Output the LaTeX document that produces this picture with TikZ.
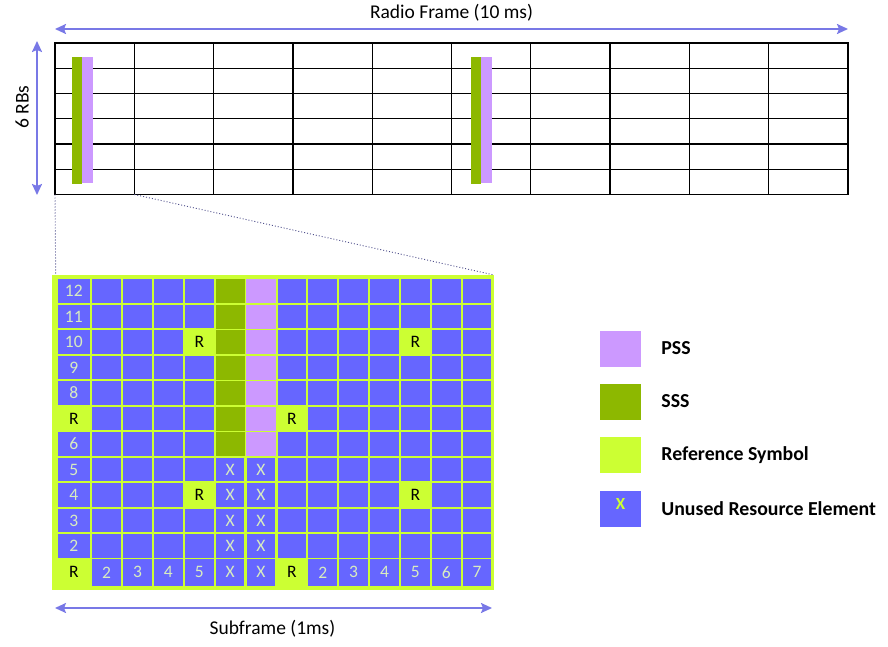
\documentclass[tikz,border=0pt]{standalone}
\usepackage{fontspec}
\setmainfont{Carlito}
\usetikzlibrary{positioning, arrows.meta, calc}

\definecolor{unused}{HTML}{6666FF}
\definecolor{refsym}{HTML}{CCFF33}
\definecolor{sss}{HTML}{8DB800}
\definecolor{pss}{HTML}{CC99FF}
\definecolor{dimblue}{HTML}{7878E6}
\definecolor{celltxt}{HTML}{D8ECC0}
\definecolor{dotblue}{HTML}{50508C}

\tikzset{
    frameline/.style={line width=1.3pt, black},
    dimarrow/.style={line width=2pt, dimblue, {Stealth[length=11pt, width=10pt, inset=2pt]}-{Stealth[length=11pt, width=10pt, inset=2pt]}},
    zoomline/.style={line width=0.9pt, dotblue, dash pattern=on 1pt off 2pt},
    labeltext/.style={font=\fontsize{19.5}{22}\selectfont, inner sep=0pt},
    re/.style={inner sep=0pt, draw=none},
    celltext/.style={font=\fontsize{17.5}{19}\selectfont, inner sep=0pt, text=celltxt},
    legbox/.style={minimum width=41pt, minimum height=36pt, inner sep=0pt},
    legtext/.style={font=\bfseries\fontsize{19.8}{23}\selectfont, inner sep=0pt, anchor=west}
}

\begin{document}
\begin{tikzpicture}[x=1pt, y=-1pt]

    \useasboundingbox (0,0) rectangle (888,647);

    % Radio frame: 10 subframes by 6 RBs
    \coordinate (frame-nw) at (55,43);
    \coordinate (frame-ne) at (848,43);
    \coordinate (frame-sw) at (55,194.5);
    \coordinate (sf1-se) at (134.3,194.5);
    \foreach \r in {1,...,5}
        \draw[frameline] (55,43+25.25*\r) -- (848,43+25.25*\r);
    \foreach \c in {1,...,9}
        \draw[frameline] (55+79.3*\c,43) -- ++(0,151.5);
    \draw[frameline] (frame-nw) rectangle (848,194.5);

    % SSS and PSS bars in subframes 0 and 5
    \fill[sss] (72,57) rectangle (82,184);
    \fill[pss] (82,57) rectangle (93,183.5);
    \fill[sss] (471,57) rectangle (481,184);
    \fill[pss] (481,57) rectangle (492,183.5);

    % Radio frame arrow
    \draw[dimarrow] ([yshift=14pt]frame-nw) -- ([yshift=14pt]frame-ne);
    \node[labeltext, anchor=base] (rf-label) at (451.5,19) {Radio Frame (10 ms)};

    % 6 RBs arrow
    \coordinate (rb-top) at (37,41);
    \coordinate (rb-bot) at (37,195);
    \draw[dimarrow] (rb-top) -- (rb-bot);
    \node[labeltext, rotate=90] (rb-label) at (22,107) {6 RBs};

    % Zoomed subframe
    \coordinate (grid-nw) at (55.7,275);
    \coordinate (grid-ne) at (494,275);
    \fill[refsym] (52,275) rectangle (494,589.5);
    \foreach \c in {0,...,13}
        \foreach \r in {0,...,11} {
            \pgfmathsetmacro{\cw}{\c==0 ? 32.3 : 28.7}
            \pgfmathsetmacro{\xm}{\c==0 ? 73.85 : 106.65+30.87*(\c-1)}
            \pgfmathsetmacro{\ch}{\r==11 ? 26.7 : 23.5}
            \pgfmathsetmacro{\ym}{\r==11 ? 572.35 : 291.05+25.5*\r}
            \node[re, fill=unused, minimum width=\cw pt, minimum height=\ch pt] (re-\c-\r) at (\xm,\ym) {};
        }

    % SSS and PSS symbols
    \foreach \r in {0,...,6} {
        \fill[sss] (re-5-\r.south west) rectangle (re-5-\r.north east);
        \fill[pss] (re-6-\r.south west) rectangle (re-6-\r.north east);
    }

    % Reference symbols
    \foreach \c/\r in {0/5, 0/11, 4/2, 4/8, 7/5, 7/11, 11/2, 11/8} {
        \fill[refsym] (re-\c-\r.south west) rectangle (re-\c-\r.north east);
        \node[celltext, text=black] (rs-\c-\r) at (re-\c-\r) {R};
    }

    % Unused resource elements
    \foreach \r in {7,...,11} {
        \node[celltext] (ux-5-\r) at (re-5-\r) {X};
        \node[celltext] (ux-6-\r) at (re-6-\r) {X};
    }

    % Subcarrier and symbol numbers
    \foreach \r/\t in {0/12, 1/11, 2/10, 3/9, 4/8, 6/6, 7/5, 8/4, 9/3, 10/2}
        \node[celltext] (sc-\r) at (re-0-\r) {\t};
    \foreach \c/\t in {1/2, 2/3, 3/4, 4/5, 8/2, 9/3, 10/4, 11/5, 12/6, 13/7}
        \node[celltext] (sym-\c) at (re-\c-11) {\t};

    % Zoom lines
    \draw[zoomline] (frame-sw) -- (grid-nw);
    \draw[zoomline] (sf1-se) -- (grid-ne);

    % Subframe arrow
    \coordinate (sf-l) at (55,608);
    \coordinate (sf-r) at (492,608);
    \draw[dimarrow] (sf-l) -- (sf-r);
    \node[labeltext, anchor=base] (sf-label) at (272.5,634) {Subframe (1ms)};

    % Legend
    \node[legbox, fill=pss] (leg-pss) at (620.5,348.5) {};
    \node[legbox, fill=sss] (leg-sss) at (620.5,401.5) {};
    \node[legbox, fill=refsym] (leg-ref) at (620.5,455) {};
    \node[legbox, fill=unused] (leg-unused) at (620.5,509) {};
    \node[font=\bfseries\fontsize{17}{18}\selectfont, text=refsym, inner sep=0pt] (leg-x) at (620.5,503.5) {X};
    \node[legtext, right=20pt of leg-pss] (lab-pss) {PSS};
    \node[legtext, right=20pt of leg-sss] (lab-sss) {SSS};
    \node[legtext, right=20pt of leg-ref] (lab-ref) {Reference Symbol};
    \node[legtext, right=20pt of leg-unused] (lab-unused) {Unused Resource Element};

\end{tikzpicture}
\end{document}
